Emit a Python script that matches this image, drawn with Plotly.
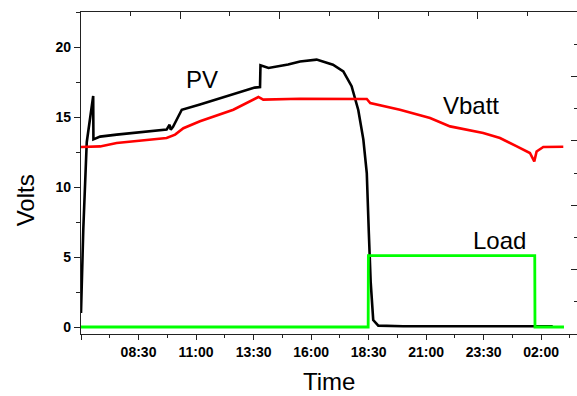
import plotly.graph_objects as go

# Time in hours since midnight (values > 24 are the next day)
pv_time = [6.0, 6.10, 6.25, 6.45, 6.53, 6.54, 6.83, 7.55, 8.27, 9.0, 9.72, 9.85, 9.90, 10.0, 10.2, 10.38,
           11.17, 12.62, 13.55, 13.78, 13.80, 14.15, 14.5, 15.0, 15.52, 16.24, 16.95, 17.4, 17.76, 18.05,
           18.27, 18.42, 18.51, 18.59, 18.70, 18.92, 20.0, 22.0, 24.0, 25.64, 26.5]
pv_volts = [1.0, 7.0, 13.2, 15.5, 16.5, 13.4, 13.6, 13.74, 13.86, 13.97, 14.1, 14.45, 14.1, 14.3, 14.9, 15.52,
            15.9, 16.6, 17.1, 17.14, 18.7, 18.5, 18.6, 18.75, 18.97, 19.1, 18.74, 18.26, 17.2, 15.5,
            13.4, 11.0, 6.7, 3.2, 0.5, 0.1, 0.05, 0.05, 0.05, 0.05, 0.05]

vbatt_time = [6.0, 6.83, 7.55, 8.27, 9.0, 9.72, 10.09, 10.45, 11.17, 12.62, 13.71, 13.92, 15.52, 16.24,
              18.42, 18.57, 19.86, 21.17, 22.04, 23.48, 24.21, 24.94, 25.51, 25.70, 25.80, 26.09, 26.96]
vbatt_volts = [12.86, 12.9, 13.14, 13.26, 13.33, 13.5, 13.74, 14.2, 14.69, 15.52, 16.43, 16.24, 16.3, 16.29,
               16.29, 16.0, 15.52, 14.93, 14.33, 13.86, 13.5, 12.9, 12.43, 11.83, 12.54, 12.86, 12.88]

load_time = [6.0, 18.48, 18.49, 25.72, 25.73, 26.99]
load_volts = [0.0, 0.0, 5.1, 5.1, 0.0, 0.0]

x_tickvals = [6, 8.5, 11, 13.5, 16, 18.5, 21, 23.5, 26]
x_ticktext = ["", "08:30", "11:00", "13:30", "16:00", "18:30", "21:00", "23:30", "02:00"]
x_minor = [7.25, 9.75, 12.25, 14.75, 17.25, 19.75, 22.25, 24.75, 27.25]
y_tickvals = [0, 5, 10, 15, 20]
y_ticktext = ["0", "5", "10", "15", "20"]
y_minor = [2.5, 7.5, 12.5, 17.5, 22.5]

labels = [("PV", 11.26, 17.7), ("Vbatt", 22.95, 15.8), ("Load", 24.17, 6.16)]

FONT = "Liberation Sans, Arial, sans-serif"
AX = "#222222"

fig = go.Figure()
fig.add_trace(go.Scatter(x=pv_time, y=pv_volts, mode="lines",
                         line=dict(color="#000000", width=2.6), showlegend=False))
fig.add_trace(go.Scatter(x=vbatt_time, y=vbatt_volts, mode="lines",
                         line=dict(color="#ff0000", width=2.6), showlegend=False))
fig.add_trace(go.Scatter(x=load_time, y=load_volts, mode="lines",
                         line=dict(color="#00ff00", width=2.8), showlegend=False))
# empty trace so the frame axes (top / right) are drawn
fig.add_trace(go.Scatter(x=[], y=[], xaxis="x2", yaxis="y2", showlegend=False, hoverinfo="skip"))

for txt, x, y in labels:
    fig.add_annotation(x=x, y=y, text=txt, showarrow=False, xanchor="center", yanchor="middle",
                       font=dict(family=FONT, size=24, color="black"))

fig.add_annotation(x=-0.113, y=0.415, xref="paper", yref="paper", text="Volts", textangle=-90,
                   xanchor="center", yanchor="middle",
                   showarrow=False, font=dict(family=FONT, size=24, color="black"))
fig.add_annotation(x=0.5, y=-0.149, xref="paper", yref="paper", text="Time",
                   xanchor="center", yanchor="middle",
                   showarrow=False, font=dict(family=FONT, size=24, color="black"))

axis_line = dict(showline=True, linecolor=AX, linewidth=1.3, showgrid=False, zeroline=False)

fig.update_layout(
    width=577, height=396,
    margin=dict(l=81, r=0, t=12, b=62, autoexpand=False),
    plot_bgcolor="white", paper_bgcolor="white",
    xaxis=dict(range=[6, 27.556], tickvals=x_tickvals, ticktext=["<b>%s</b>" % t if t else "" for t in x_ticktext],
               ticks="outside", ticklen=5, tickwidth=1.3, tickcolor=AX,
               minor=dict(tickvals=x_minor, ticks="outside", ticklen=3, tickwidth=1.3, tickcolor=AX),
               tickfont=dict(family=FONT, size=14, color="black"), automargin=False, **axis_line),
    yaxis=dict(range=[-0.5, 22.5], tickvals=y_tickvals, ticktext=["<b>%s</b>" % t for t in y_ticktext],
               ticks="outside", ticklen=6, tickwidth=1.3, tickcolor=AX,
               minor=dict(tickvals=y_minor, ticks="outside", ticklen=3.5, tickwidth=1.3, tickcolor=AX),
               tickfont=dict(family=FONT, size=14, color="black"), automargin=False, **axis_line),
    xaxis2=dict(overlaying="x", side="top", range=[0, 5], tickvals=[1, 2, 3, 4],
                ticks="inside", ticklen=7, tickwidth=1.3, tickcolor=AX,
                minor=dict(tickvals=[0.5, 1.5, 2.5, 3.5, 4.5], ticks="inside", ticklen=4,
                           tickwidth=1.3, tickcolor=AX),
                showticklabels=False, automargin=False, **axis_line),
    yaxis2=dict(overlaying="y", side="right", range=[0, 5], tickvals=[1, 2, 3, 4],
                ticks="inside", ticklen=6, tickwidth=1.3, tickcolor=AX,
                minor=dict(tickvals=[0.5, 1.5, 2.5, 3.5, 4.5], ticks="inside", ticklen=3.5,
                           tickwidth=1.3, tickcolor=AX),
                showticklabels=False, showline=False, showgrid=False, zeroline=False, automargin=False),
)

fig.write_html("out.html", config={"displayModeBar": False},
               post_script="document.body.style.margin='0';document.body.style.overflow='hidden';")
